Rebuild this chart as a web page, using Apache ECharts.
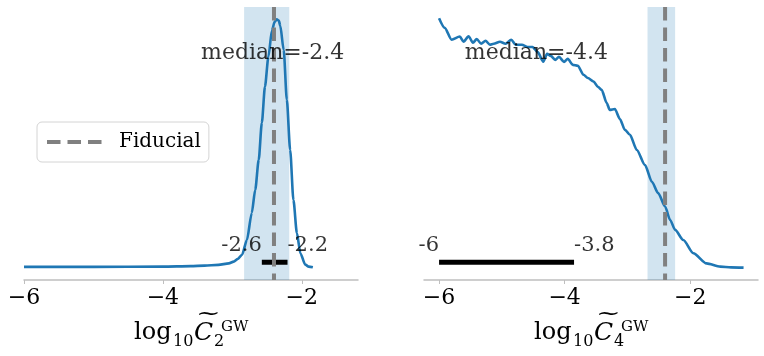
<!DOCTYPE html>
<html>
<head>
<meta charset="utf-8">
<script src="https://cdn.jsdelivr.net/npm/echarts@6/dist/echarts.min.js"></script>
<style>
  html, body { margin: 0; padding: 0; background: #fff; }
  #chart { width: 764px; height: 356px; }
</style>
</head>
<body>
<div id="chart"></div>
<script>
// tick positions / labels shared by both panels
const xTicks = [-6, -4, -2];
const xTickLabels = ['−6', '−4', '−2'];

// posterior of log10 C2 (normalised density)
const c2X = [-6.0, -5.0, -4.0, -3.6, -3.4, -3.2, -3.05, -2.98, -2.92, -2.86, -2.79, -2.72, -2.67, -2.62,
  -2.575, -2.53, -2.48, -2.43, -2.39, -2.36, -2.33, -2.31, -2.26, -2.215, -2.167, -2.12, -2.07, -2.02,
  -1.95, -1.9, -1.84];
const c2Y = [0.003, 0.003, 0.004, 0.006, 0.008, 0.011, 0.017, 0.024, 0.035, 0.052, 0.111, 0.22, 0.313, 0.434,
  0.583, 0.729, 0.85, 0.955, 0.99, 1.0, 0.995, 0.975, 0.877, 0.676, 0.474, 0.272, 0.139, 0.058,
  0.012, 0.004, 0.001];

// posterior of log10 C4
const c4X = [-6.0, -5.91, -5.8, -5.67, -5.61, -5.53, -5.46, -5.4, -5.33, -5.26, -5.19, -5.13, -5.03, -4.94,
  -4.85, -4.78, -4.68, -4.59, -4.51, -4.43, -4.34, -4.28, -4.22, -4.15, -4.09, -4.01, -3.95, -3.87, -3.79,
  -3.7, -3.63, -3.54, -3.47, -3.41, -3.33, -3.28, -3.2, -3.12, -3.04, -2.96, -2.85, -2.72, -2.61, -2.51,
  -2.4, -2.32, -2.24, -2.11, -1.95, -1.74, -1.52, -1.35, -1.15];
const c4Y = [1.005, 0.966, 0.918, 0.931, 0.91, 0.932, 0.906, 0.921, 0.902, 0.914, 0.898, 0.902, 0.91, 0.902,
  0.918, 0.898, 0.898, 0.889, 0.889, 0.868, 0.83, 0.861, 0.853, 0.837, 0.849, 0.829, 0.841, 0.817, 0.813,
  0.777, 0.764, 0.75, 0.728, 0.716, 0.663, 0.635, 0.639, 0.599, 0.555, 0.535, 0.474, 0.413, 0.346, 0.3,
  0.246, 0.192, 0.152, 0.111, 0.058, 0.017, 0.004, 0.001, 0.0];

const fiducial = -2.4;
const bandC2 = [-2.83, -2.18];
const bandC4 = [-2.68, -2.24];
const barC2 = [-2.575, -2.205];
const barC4 = [-6.0, -3.85];
const barLabelsC2 = ['-2.6', '-2.2'];
const barLabelsC4 = ['-6', '-3.8'];
const medians = [-2.42, -4.45];
const medianLabels = ['median=-2.4', 'median=-4.4'];

const SERIF = '"DejaVu Serif", serif';
const BLUE = '#1f77b4';
const Y_MIN = -0.05, Y_MAX = 1.05;
const BAR_Y = 0.022, MEDIAN_Y = 0.865;

const chart = echarts.init(document.getElementById('chart'), null, { renderer: 'canvas' });

const zip = (xs, ys) => xs.map((x, i) => [x, ys[i]]);

const xAxisFor = (gi, min, max) => ({
  gridIndex: gi,
  type: 'value',
  min: min,
  max: max,
  axisLine: { show: true, onZero: false, lineStyle: { color: '#bfbfbf', width: 1.5 } },
  axisTick: { show: true, length: 4, customValues: xTicks, lineStyle: { color: '#bfbfbf', width: 1 } },
  axisLabel: {
    customValues: xTicks,
    formatter: (v) => xTickLabels[xTicks.indexOf(v)] || '',
    color: '#000', fontFamily: SERIF, fontSize: 22, margin: 7,
  },
  splitLine: { show: false },
});

// invisible anchor points that only carry a text label
const textMarks = {
  type: 'scatter', silent: true, symbolSize: 0,
  itemStyle: { color: '#000' },
  emphasis: { disabled: true },
};
const labelText = { color: '#000', fontFamily: SERIF, textBorderWidth: 0, textBorderColor: 'transparent' };

const panelSeries = (ai, xs, ys, band, bar, barLabels, median, medianLabel) => [
  {
    type: 'line', xAxisIndex: ai, yAxisIndex: ai,
    data: zip(xs, ys), symbol: 'none', smooth: 0.25, smoothMonotone: 'x', z: 2,
    lineStyle: { color: BLUE, width: 2.6 },
    markArea: {
      silent: true,
      itemStyle: { color: 'rgba(31,119,180,0.2)' },
      data: [[{ xAxis: band[0] }, { xAxis: band[1] }]],
    },
  },
  {
    type: 'line', xAxisIndex: ai, yAxisIndex: ai, z: 3,
    data: [[bar[0], BAR_Y], [bar[1], BAR_Y]], symbol: 'none',
    lineStyle: { color: '#000', width: 5, cap: 'butt' },
  },
  {
    type: 'line', name: 'Fiducial', xAxisIndex: ai, yAxisIndex: ai, z: 4,
    data: [[fiducial, Y_MAX], [fiducial, Y_MIN]], symbol: 'none',
    lineStyle: { color: '#808080', width: 4, type: [13.5, 7] },
  },
  Object.assign({}, textMarks, {
    xAxisIndex: ai, yAxisIndex: ai, z: 5,
    data: [
      { value: [bar[0], BAR_Y], label: { formatter: barLabels[0], align: 'right' } },
      { value: [bar[1], BAR_Y], label: { formatter: barLabels[1], align: 'left' } },
    ],
    label: Object.assign({
      show: true, position: [0, 0], verticalAlign: 'bottom', offset: [0, -6], fontSize: 21,
    }, labelText),
  }),
  Object.assign({}, textMarks, {
    xAxisIndex: ai, yAxisIndex: ai, z: 6,
    data: [[median, MEDIAN_Y]],
    label: Object.assign({
      show: true, position: [0, 0], align: 'center', verticalAlign: 'middle',
      formatter: medianLabel, fontSize: 22,
    }, labelText),
  }),
];

// axis title "log10 C~_n^GW" built from text pieces
const txt = (x, y, text, font, extra) => Object.assign(
  { type: 'text', x: x, y: y, silent: true, style: { text: text, font: font, fill: '#000' } },
  extra || {}
);
const axisTitle = (x0, n) => [
  txt(x0, 321, 'log', '24px ' + SERIF),
  txt(x0 + 39, 334, '10', '16px ' + SERIF),
  txt(x0 + 60, 321, 'C', 'italic 25px ' + SERIF),
  txt(x0 + 62, 304, '~', '21px ' + SERIF, { scaleX: 1.4 }),
  txt(x0 + 80, 334, String(n), '16px ' + SERIF),
  txt(x0 + 87, 320, 'GW', '15px ' + SERIF),
];

chart.setOption({
  backgroundColor: '#fff',
  animation: false,
  grid: [
    { left: 24, top: 7, width: 334, height: 273 },
    { left: 424, top: 7, width: 334, height: 273 },
  ],
  xAxis: [xAxisFor(0, -6, -1.19), xAxisFor(1, -6.24, -0.92)],
  yAxis: [
    { gridIndex: 0, type: 'value', min: Y_MIN, max: Y_MAX, show: false },
    { gridIndex: 1, type: 'value', min: Y_MIN, max: Y_MAX, show: false },
  ],
  legend: {
    data: ['Fiducial'],
    left: 37, top: 122,
    padding: [10, 8, 10, 8],
    itemWidth: 55, itemHeight: 14,
    backgroundColor: '#fff',
    borderColor: '#d4d4d4', borderWidth: 1, borderRadius: 5,
    itemStyle: { opacity: 0 },
    lineStyle: { width: 4 },
    textStyle: { color: '#000', fontFamily: SERIF, fontSize: 20, padding: [0, 0, 0, 12] },
  },
  graphic: [...axisTitle(134, 2), ...axisTitle(534, 4)],
  series: [
    ...panelSeries(0, c2X, c2Y, bandC2, barC2, barLabelsC2, medians[0], medianLabels[0]),
    ...panelSeries(1, c4X, c4Y, bandC4, barC4, barLabelsC4, medians[1], medianLabels[1]),
  ],
});
</script>
</body>
</html>
